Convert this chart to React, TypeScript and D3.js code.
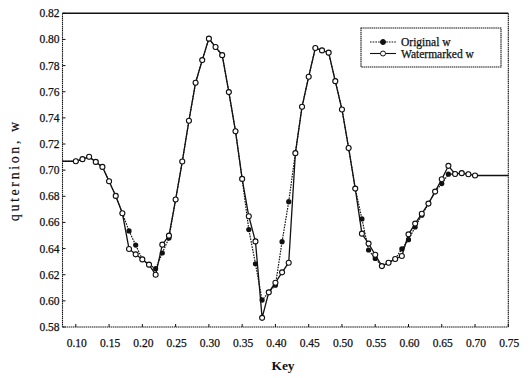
import * as d3 from 'd3';

const keys = [
  0.10, 0.11, 0.12, 0.13, 0.14, 0.15, 0.16, 0.17, 0.18, 0.19,
  0.20, 0.21, 0.22, 0.23, 0.24, 0.25, 0.26, 0.27, 0.28, 0.29,
  0.30, 0.31, 0.32, 0.33, 0.34, 0.35, 0.36, 0.37, 0.38, 0.39,
  0.40, 0.41, 0.42, 0.43, 0.44, 0.45, 0.46, 0.47, 0.48, 0.49,
  0.50, 0.51, 0.52, 0.53, 0.54, 0.55, 0.56, 0.57, 0.58, 0.59,
  0.60, 0.61, 0.62, 0.63, 0.64, 0.65, 0.66, 0.67, 0.68, 0.69,
  0.70,
];

const watermarked = [
  0.7068, 0.7084, 0.7102, 0.7063, 0.7025, 0.6915, 0.6803, 0.6670, 0.6397, 0.6356,
  0.6317, 0.6277, 0.6200, 0.6430, 0.6499, 0.6775, 0.7066, 0.7378, 0.7669, 0.7842,
  0.8006, 0.7942, 0.7880, 0.7597, 0.7298, 0.6933, 0.6647, 0.6455, 0.5870, 0.6065,
  0.6139, 0.6218, 0.6292, 0.7130, 0.7485, 0.7715, 0.7934, 0.7916, 0.7899, 0.7681,
  0.7464, 0.7170, 0.6859, 0.6514, 0.6438, 0.6353, 0.6266, 0.6292, 0.6320, 0.6343,
  0.6509, 0.6591, 0.6667, 0.6744, 0.6836, 0.6930, 0.7033, 0.6971, 0.6977, 0.6969,
  0.6959,
];

const original = [
  0.7068, 0.7084, 0.7102, 0.7063, 0.7025, 0.6915, 0.6803, 0.6670, 0.6535, 0.6427,
  0.6317, 0.6277, 0.6246, 0.6366, 0.6480, 0.6775, 0.7066, 0.7378, 0.7669, 0.7842,
  0.8006, 0.7942, 0.7880, 0.7597, 0.7298, 0.6933, 0.6545, 0.6284, 0.6006, 0.6065,
  0.6120, 0.6453, 0.6759, 0.7130, 0.7485, 0.7715, 0.7934, 0.7916, 0.7899, 0.7681,
  0.7464, 0.7170, 0.6859, 0.6627, 0.6389, 0.6325, 0.6266, 0.6292, 0.6320, 0.6397,
  0.6468, 0.6565, 0.6655, 0.6744, 0.6836, 0.6897, 0.6969, 0.6971, 0.6977, 0.6969,
  0.6959,
];

// flat lead-in / lead-out to the frame edges (no markers)
const leadIn = { key: 0.08, value: 0.7068 };
const leadOut = { key: 0.75, value: 0.6959 };

const xTicks = [0.10, 0.15, 0.20, 0.25, 0.30, 0.35, 0.40, 0.45, 0.50, 0.55, 0.60, 0.65, 0.70, 0.75];
const yTicks = [0.58, 0.60, 0.62, 0.64, 0.66, 0.68, 0.70, 0.72, 0.74, 0.76, 0.78, 0.80, 0.82];

const legendItems = ['Original w', 'Watermarked w'];

export default function App() {
  const width = 530;
  const height = 378;
  const left = 62.5;
  const right = 508.3;
  const top = 13.3;
  const bottom = 327;

  const x = d3.scaleLinear().domain([0.08, 0.75]).range([left, right]);
  const y = d3.scaleLinear().domain([0.58, 0.82]).range([bottom, top]);

  const toPts = (vals: number[]) => [leadIn, ...keys.map((k, i) => ({ key: k, value: vals[i] })), leadOut];
  const line = d3
    .line<{ key: number; value: number }>()
    .x((d) => x(d.key))
    .y((d) => y(d.value));

  const ink = '#111';
  const serif = '"Liberation Serif", "DejaVu Serif", serif';

  return (
    <div style={{ position: 'fixed', left: 0, top: 0 }}>
      <svg width={width} height={height} style={{ display: 'block', background: '#fff' }}>
        {/* frame */}
        <line x1={left} x2={right} y1={top} y2={top} stroke={ink} strokeWidth={1.4} />
        <line x1={left} x2={right} y1={bottom} y2={bottom} stroke={ink} strokeWidth={1.1} strokeDasharray="1.5 0.6" />
        <line x1={left} x2={left} y1={top} y2={bottom} stroke={ink} strokeWidth={1.1} strokeDasharray="1.5 0.6" />
        <line x1={right} x2={right} y1={top} y2={bottom} stroke={ink} strokeWidth={1.1} strokeDasharray="1.5 0.6" />

        {xTicks.map((t) => (
          <g key={`x${t}`}>
            <line x1={x(t)} x2={x(t)} y1={bottom} y2={bottom - 3} stroke={ink} />
            <text x={x(t) + 1} y={347} textAnchor="middle" fontSize={11.5} fontFamily={serif} fill={ink} stroke={ink} strokeWidth={0.25}>
              {t.toFixed(2)}
            </text>
          </g>
        ))}
        {yTicks.map((t) => (
          <g key={`y${t}`}>
            <line x1={left} x2={left + 3} y1={y(t)} y2={y(t)} stroke={ink} />
            <text x={left - 3} y={y(t) + 4} textAnchor="end" fontSize={11.5} fontFamily={serif} fill={ink} stroke={ink} strokeWidth={0.25}>
              {t.toFixed(2)}
            </text>
          </g>
        ))}

        <text x={283} y={370} textAnchor="middle" fontSize={13.5} fontWeight="bold" fontFamily={serif} fill={ink}>
          Key
        </text>
        <text
          transform={`translate(19,${(top + bottom) / 2}) rotate(-90)`}
          textAnchor="middle"
          fontSize={14}
          letterSpacing={2.6}
          fontFamily={serif}
          fill={ink}
          stroke={ink}
          strokeWidth={0.2}
        >
          quternion, w
        </text>

        {/* original: dashed line, filled dots */}
        <path d={line(toPts(original)) ?? ''} fill="none" stroke={ink} strokeWidth={1.2} strokeDasharray="1.6 1.1" />
        {/* watermarked: solid line, open dots */}
        <path d={line(toPts(watermarked)) ?? ''} fill="none" stroke={ink} strokeWidth={1.3} />
        {keys.map((k, i) => (
          <circle key={`o${k}`} cx={x(k)} cy={y(original[i])} r={2.6} fill={ink} />
        ))}
        {keys.map((k, i) => (
          <circle key={`w${k}`} cx={x(k)} cy={y(watermarked[i])} r={2.5} fill="#fff" stroke={ink} strokeWidth={1.1} />
        ))}

        {/* legend */}
        <rect x={361} y={28} width={140} height={39} fill="#fff" stroke={ink} strokeWidth={1.1} strokeDasharray="1.5 0.6" />
        {legendItems.map((name, i) => {
          const ly = 42 + i * 11.5;
          return (
            <g key={name}>
              <line x1={370} x2={396} y1={ly} y2={ly} stroke={ink} strokeWidth={1.1} strokeDasharray={i === 0 ? '1.6 1.1' : undefined} />
              <circle cx={383} cy={ly} r={2.5} fill={i === 0 ? ink : '#fff'} stroke={ink} strokeWidth={1} />
              <text x={401} y={ly + 4} fontSize={11.5} fontFamily={serif} fill={ink} stroke={ink} strokeWidth={0.25}>
                {name}
              </text>
            </g>
          );
        })}
      </svg>
    </div>
  );
}
